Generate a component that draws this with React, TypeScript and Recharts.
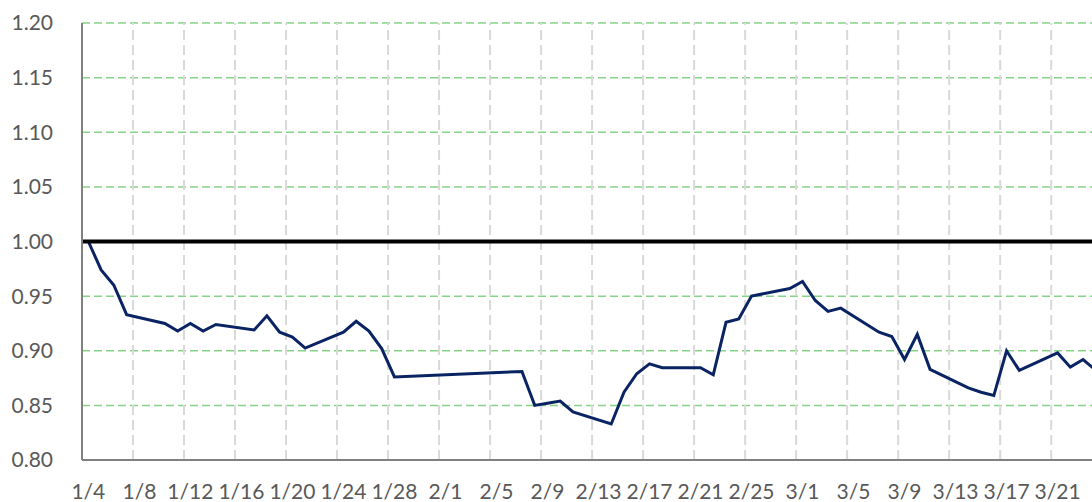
import { LineChart, Line, XAxis, YAxis, CartesianGrid, ReferenceLine } from "recharts";

const dates = [
    "1/4", "1/5", "1/6", "1/7", "1/10", "1/11", "1/12", "1/13", "1/14",
    "1/17", "1/18", "1/19", "1/20", "1/21", "1/24", "1/25", "1/26", "1/27", "1/28",
    "2/7", "2/8", "2/9", "2/10", "2/11", "2/14", "2/15", "2/16", "2/17", "2/18",
    "2/21", "2/22", "2/23", "2/24", "2/25", "2/28", "3/1", "3/2", "3/3", "3/4",
    "3/7", "3/8", "3/9", "3/10", "3/11", "3/14", "3/15", "3/16", "3/17", "3/18",
    "3/21", "3/22", "3/23", "3/24",
];

const values = [
    1.0, 0.974, 0.96, 0.933, 0.925, 0.918, 0.925, 0.918, 0.924,
    0.919, 0.932, 0.917, 0.9125, 0.9025, 0.917, 0.927, 0.918, 0.902, 0.876,
    0.881, 0.85, 0.852, 0.854, 0.844, 0.833, 0.862, 0.879, 0.888, 0.8845,
    0.8845, 0.878, 0.926, 0.929, 0.95, 0.957, 0.9635, 0.946, 0.936, 0.939,
    0.917, 0.913, 0.892, 0.915, 0.883, 0.866, 0.862, 0.859, 0.9, 0.882,
    0.898, 0.885, 0.892, 0.882,
];

const tickLabels = [
    "1/4", "1/8", "1/12", "1/16", "1/20", "1/24", "1/28", "2/1", "2/5", "2/9",
    "2/13", "2/17", "2/21", "2/25", "3/1", "3/5", "3/9", "3/13", "3/17", "3/21",
];

const yTicks = [0.8, 0.85, 0.9, 0.95, 1.0, 1.05, 1.1, 1.15, 1.2];

// days since 1/4 (2022, not a leap year)
const dayOf = (md: string) => {
    const [m, d] = md.split("/").map(Number);
    return (Date.UTC(2022, m - 1, d) - Date.UTC(2022, 0, 4)) / 86400000;
};

// points sit in the middle of their day slot, like an Excel date axis
const data = dates.map((date, i) => ({ date, x: dayOf(date) + 0.5, value: values[i] }));
const tickPositions = tickLabels.map((t) => dayOf(t) + 0.5);
const labelAt = new Map(tickPositions.map((p, i) => [p, tickLabels[i]]));
const boundaries = tickLabels.slice(1).map(dayOf);

const X_MAX = 79.2;
const font = { fontFamily: "Lato, 'Noto Sans', sans-serif", fontSize: 21, fill: "#595959" };

const App = () => {
    return (
        <div style={{ position: "fixed", top: 0, left: 0, width: 1092, height: 502, overflow: "hidden", background: "#fff" }}>
            <LineChart width={1092} height={502} data={data} margin={{ top: 23, right: 0, bottom: 0, left: 0 }}>
                <CartesianGrid vertical={false} stroke="#86d386" strokeDasharray="8 4" strokeWidth={1.5} />

                {boundaries.map((b) => (
                    <ReferenceLine key={b} x={b} stroke="#d9d9d9" strokeWidth={2} strokeDasharray="10 5" />
                ))}

                <XAxis
                    type="number"
                    dataKey="x"
                    domain={[0, X_MAX]}
                    allowDataOverflow
                    ticks={tickPositions}
                    interval={0}
                    tickFormatter={(v) => labelAt.get(v) ?? ""}
                    tickLine={false}
                    tickSize={0}
                    tickMargin={24}
                    tick={font}
                    axisLine={{ stroke: "#808080", strokeWidth: 2 }}
                    height={42}
                />
                <YAxis
                    domain={[0.8, 1.2]}
                    ticks={yTicks}
                    interval={0}
                    tickFormatter={(v) => v.toFixed(2)}
                    tickLine={false}
                    tickSize={0}
                    tickMargin={29}
                    tick={font}
                    axisLine={{ stroke: "#808080", strokeWidth: 2 }}
                    width={82}
                />

                <Line
                    type="linear"
                    dataKey="value"
                    stroke="#0a2463"
                    strokeWidth={3}
                    dot={false}
                    activeDot={false}
                    isAnimationActive={false}
                />

                <ReferenceLine y={1} stroke="#000" strokeWidth={4} />
            </LineChart>
        </div>
    );
};

export default App;
